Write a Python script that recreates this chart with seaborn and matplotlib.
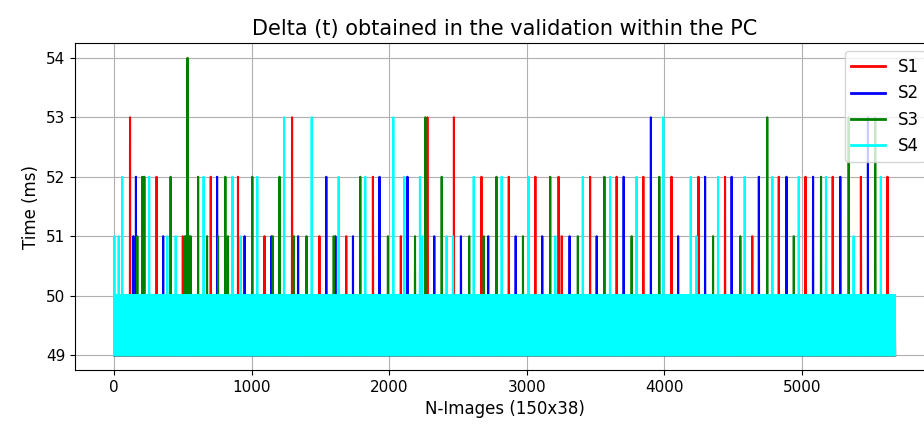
import numpy as np
import pandas as pd
import seaborn as sns
import matplotlib
matplotlib.use("Agg")
import matplotlib.pyplot as plt

# number of images in the validation run and the two base timings (ms)
n_images = 5679
base_pattern = [49, 50]

# spikes: image index and time (ms)
s1_x = [116, 309, 500, 703, 901, 1094, 1294, 1493, 1688, 1882, 2085, 2278, 2471,
        2671, 2870, 3063, 3232, 3255, 3461, 3654, 3848, 4053, 4249, 4442, 4640,
        4833, 5027, 5225, 5430, 5623]
s1_v = [53, 52, 51, 52, 52, 51, 53, 51, 51, 52, 51, 53, 53,
        52, 52, 52, 52, 51, 52, 52, 52, 52, 52, 52, 51,
        52, 52, 52, 52, 52]

s2_x = [140, 159, 357, 749, 949, 1145, 1338, 1543, 1609, 1737, 1930, 2133, 2328,
        2522, 2720, 2920, 3113, 3312, 3509, 3705, 3903, 4101, 4297, 4490, 4688,
        4889, 5082, 5280, 5481]
s2_v = [51, 52, 51, 52, 51, 51, 51, 52, 51, 51, 52, 52, 51,
        51, 51, 51, 51, 51, 51, 52, 53, 51, 52, 52, 52,
        52, 52, 52, 53]

s3_x = [169, 205, 220, 411, 515, 525, 534, 545, 556, 611, 676, 756, 809, 828,
        1005, 1154, 1203, 1307, 1399, 1597, 1790, 1991, 2188, 2263, 2382, 2582,
        2688, 2780, 2973, 3171, 3372, 3565, 3763, 3964, 4355, 4553, 4749, 4942,
        5140, 5341, 5534]
s3_v = [51, 52, 52, 52, 51, 51, 54, 51, 51, 52, 51, 51, 52, 51,
        52, 51, 52, 51, 51, 51, 52, 51, 51, 53, 52, 51,
        51, 52, 51, 52, 51, 52, 51, 52, 51, 51, 53, 51,
        52, 53, 53]

s4_x = [2, 34, 59, 255, 387, 448, 651, 861, 919, 1041, 1236, 1437, 1633, 1826,
        2030, 2110, 2224, 2240, 2418, 2464, 2615, 2818, 3014, 3208, 3408, 3606,
        3799, 3993, 4193, 4234, 4391, 4585, 4786, 4978, 5176, 5377, 5575]
s4_v = [51, 51, 52, 52, 51, 51, 52, 52, 51, 52, 53, 53, 52, 52,
        53, 52, 52, 51, 51, 51, 52, 52, 52, 51, 52, 52,
        52, 53, 52, 51, 52, 52, 52, 52, 52, 51, 52]

series = {"S1": (s1_x, s1_v), "S2": (s2_x, s2_v),
          "S3": (s3_x, s3_v), "S4": (s4_x, s4_v)}
colors = {"S1": "red", "S2": "blue", "S3": "green", "S4": "cyan"}

frames = []
idx = np.arange(n_images)
for name, (sx, sv) in series.items():
    t = np.resize(base_pattern, n_images).astype(float)
    t[sx] = sv
    frames.append(pd.DataFrame({"image": idx, "time": t, "series": name}))
df = pd.concat(frames, ignore_index=True)

fig = plt.figure(figsize=(9.24, 4.25), dpi=100)
ax = fig.add_axes([0.0812, 0.1294, 0.9297, 0.7694])

sns.lineplot(data=df, x="image", y="time", hue="series", palette=colors,
             estimator=None, errorbar=None, sort=False, lw=1.5, ax=ax)

ax.grid(True)
ax.set_xticks([0, 1000, 2000, 3000, 4000, 5000])
ax.set_yticks([49, 50, 51, 52, 53, 54])
ax.tick_params(labelsize=11)
ax.set_title("Delta (t) obtained in the validation within the PC", fontsize=15)
ax.set_xlabel("N-Images (150x38)", fontsize=12)
ax.set_ylabel("Time (ms)", fontsize=12)
leg = ax.legend(loc="upper right", fontsize=12)
for line in leg.get_lines():
    line.set_linewidth(2)

fig.savefig("out.png", dpi=100)
